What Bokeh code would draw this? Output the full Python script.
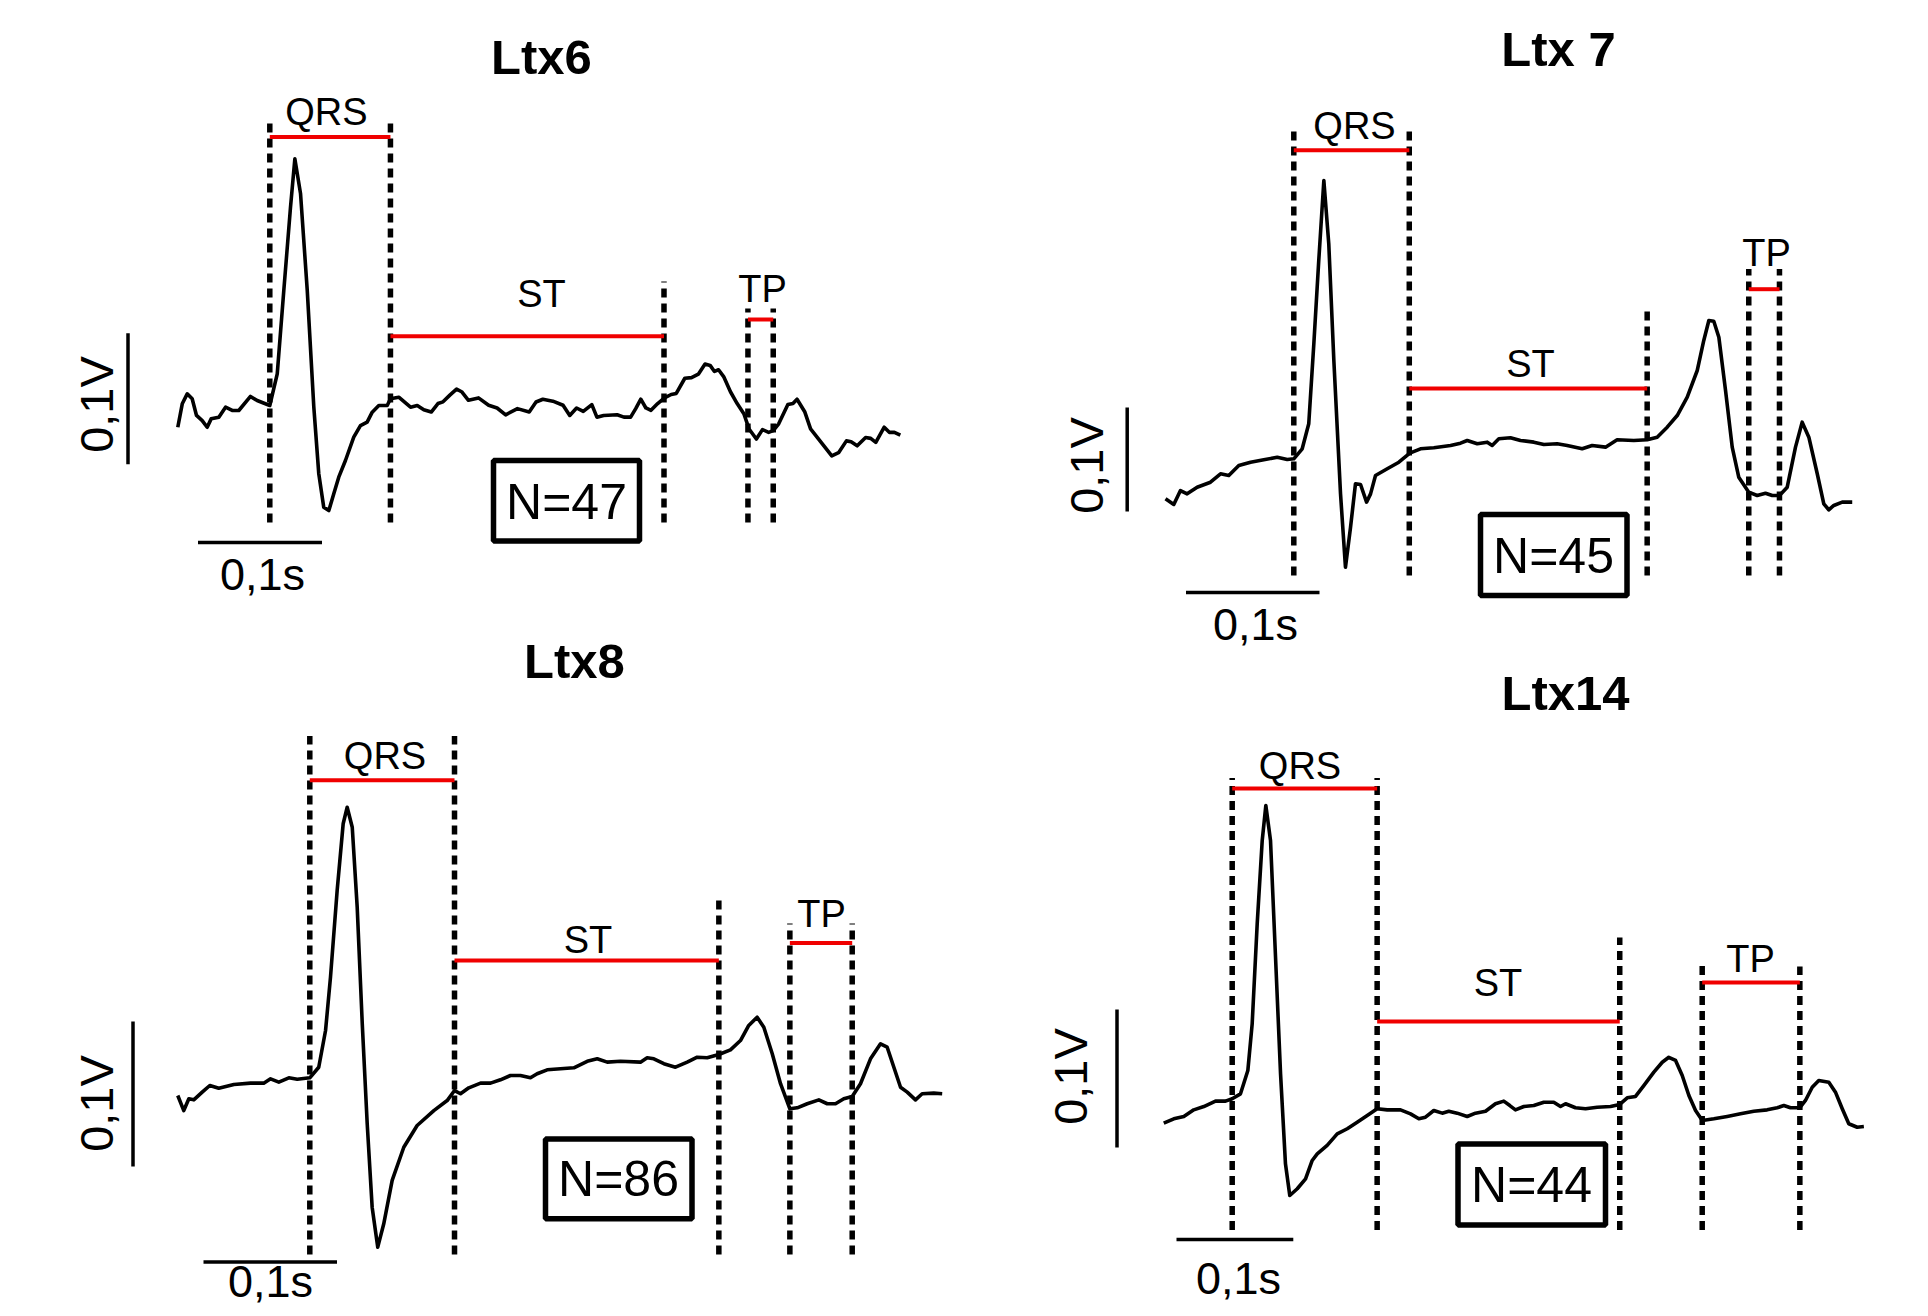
import math
from bokeh.plotting import figure
from bokeh.layouts import row, column
from bokeh.models import Range1d
from bokeh.core.properties import value
from bokeh.embed import file_html
from bokeh.resources import INLINE

# ---------------- data (time in ms from QRS onset, voltage in mV) ----------------
titles = ["Ltx6", "Ltx 7", "Ltx8", "Ltx14"]
n_beats = [47, 45, 86, 44]
interval_names = ["QRS", "ST", "TP"]
time_bar_label = "0,1s"
volt_bar_label = "0,1V"
time_bar_ms = 100
volt_bar_mv = 100

# markers: QRS onset, QRS end / ST start, ST end, TP start, TP end (ms)
marks_6 = [0, 97.3, 317.9, 385.6, 406.0]
marks_7 = [0, 86.5, 264.7, 340.8, 363.8]
marks_8 = [0, 108.4, 306.4, 359.6, 406.3]
marks_14 = [0, 124.1, 331.8, 402.4, 486.0]

t_6 = [-74.2, -70.6, -66.6, -62.6, -59.1, -54.5, -50.5, -47.3, -41.1, -35.7, -30.3, -25.0, -15.6, -10.2, 0,
       6.0, 11.3, 16.7, 20.2, 24.8, 30.2, 35.5, 39.5, 43.5, 47.6, 51.6, 55.6, 61.0, 67.7, 73.1, 78.5, 82.6,
       87.9, 94.7, 97.3, 104.0, 113.5, 118.9, 124.2,
       130.2, 135.6, 139.7, 145.2, 150.6, 154.7, 160.2, 168.3, 176.5, 183.3,
       190.2, 199.7, 209.2, 214.7, 220.2, 228.3, 236.5, 241.9, 247.4, 252.8,
       259.7, 263.8, 269.2, 280.1, 285.6, 291.0, 295.1, 299.2, 303.3, 307.4,
       312.8, 318.3, 323.7, 327.8, 334.7, 340.1, 345.6, 351.0, 355.1, 358.6,
       361.9, 366.0, 371.5, 376.9, 382.3, 386.5, 392.4, 397.3, 402.3, 406.0,
       410.4, 417.8, 421.9, 425.2, 431.5, 436.1, 443.7, 453.2, 458.7, 465.0,
       468.8, 473.7, 480.5, 484.6, 488.7, 495.5, 499.6, 503.7, 508.5]
v_6 = [-16.6, 1.3, 8.9, 5.1, -7.6, -11.5, -16.6, -10.2, -8.9, -1.3, -3.8, -3.8, 6.9, 3.8, 0,
       24.2, 87.8, 151.4, 188.3, 161.6, 87.8, -1.3, -52.1, -77.6, -80.2, -67.4, -54.7, -42.0, -24.2, -15.3, -12.7, -5.1,
       0, 0, 5.1, 6.3, -1.3, 0, -3.3,
       -5.0, 1.5, 2.8, 7.9, 12.5, 10.5, 4.0, 5.8, 0.2, -1.9,
       -7.1, -2.4, -5.0, 2.7, 4.8, 3.3, 0.2, -7.6, -1.9, -4.5,
       0.7, -8.9, -7.6, -7.1, -8.9, -8.9, -2.4, 4.8, -1.9, -3.7,
       1.5, 5.8, 8.4, 9.2, 20.8, 21.3, 23.9, 31.6, 30.6, 26.0,
       27.3, 22.1, 10.5, 1.5, -6.3, -17.9, -25.6, -18.4, -20.5, -19.2,
       -14.0, 0.7, 1.5, 4.8, -5.0, -17.9, -27.0, -38.5, -36.0, -27.0,
       -27.7, -30.8, -24.4, -25.1, -28.2, -16.6, -20.5, -20.5, -22.6]

t_7 = [-96.1, -89.9, -84.9, -79.9, -72.4, -62.4, -54.9, -48.7, -41.2, -32.4,
       -22.5, -12.4, -4.9, 0, 6.3, 11.2, 15.0, 18.7, 22.5, 26.2,
       30.0, 35.0, 38.7, 42.5, 46.2, 50.0, 54.5, 57.5, 61.2, 70.0,
       78.7, 86.9, 94.9, 104.9, 117.4, 124.9, 129.9, 137.4, 144.9, 148.6,
       153.6, 162.3, 169.8, 179.8, 187.3, 197.3, 204.8, 216.0, 223.5, 233.5,
       242.2, 254.7, 264.7, 272.2, 279.7, 287.2, 294.7, 302.2, 307.1, 310.9,
       314.6, 318.4, 323.4, 328.4, 333.3, 340.8, 347.1, 353.3, 358.4, 363.8,
       369.6, 375.8, 380.8, 385.8, 392.1, 397.0, 400.7, 404.5, 410.8, 418.3]
v_7 = [-38.5, -43.9, -30.5, -33.7, -27.3, -22.5, -14.4, -16.1, -6.4, -3.3,
       -1.0, 1.5, -0.7, 0, 9.6, 33.7, 110.6, 190.7, 267.6, 206.7,
       94.5, -33.7, -104.2, -65.8, -24.0, -24.7, -41.7, -33.7, -16.1, -9.6,
       -3.3, 5.4, 9.6, 10.6, 12.8, 15.0, 17.6, 14.4, 16.0, 12.8,
       19.2, 20.2, 17.6, 16.0, 13.8, 14.4, 12.8, 9.6, 12.8, 11.2,
       18.3, 17.6, 18.3, 20.8, 30.4, 41.6, 59.2, 84.9, 113.8, 133.0,
       132.3, 116.9, 65.7, 11.2, -17.7, -32.1, -35.3, -33.1, -35.3, -35.3,
       -27.3, 11.2, 35.2, 20.8, -14.4, -43.3, -49.0, -44.9, -41.7, -41.7]

t_8 = [-98.9, -94.4, -90.6, -86.9, -80.6, -74.9, -68.2, -56.9, -44.4, -34.5,
       -29.4, -23.2, -15.7, -9.4, 0, 6.7, 11.8, 15.5, 20.5, 25.0,
       28.0, 31.8, 35.5, 39.3, 43.0, 46.7, 50.9, 55.4, 61.7, 70.4,
       80.4, 92.9, 102.9, 108.4, 112.9, 119.1, 127.9, 135.4, 142.8, 150.3,
       157.8, 165.3, 170.3, 177.8, 187.8, 197.8, 207.8, 215.3, 222.8, 232.7,
       247.7, 252.7, 257.7, 265.2, 273.9, 282.7, 290.2, 297.7, 306.4, 315.1,
       322.6, 328.8, 335.1, 340.1, 346.4, 352.6, 359.6, 365.1, 372.6, 381.3,
       387.6, 393.8, 400.0, 406.3, 412.5, 420.0, 427.5, 432.5, 437.5, 442.5,
       447.5, 453.7, 458.7, 467.4, 473.7]
v_8 = [-12.2, -22.6, -14.5, -15.2, -9.9, -5.3, -7.2, -4.6, -3.7, -3.7,
       -0.7, -3.0, 0, -1.0, 0, 7.3, 32.6, 69.4, 129.2, 175.2,
       186.6, 172.8, 117.7, 37.2, -31.7, -89.2, -116.8, -100.7, -70.8, -47.9,
       -32.9, -22.6, -15.7, -8.8, -11.0, -6.9, -3.7, -3.7, -1.4, 1.6,
       1.6, 0, 2.8, 5.5, 6.2, 6.9, 11.4, 13.1, 10.8, 11.4,
       10.8, 13.8, 13.1, 9.7, 7.3, 10.8, 14.2, 13.8, 16.1, 19.3,
       25.7, 36.1, 41.8, 34.9, 16.6, -4.1, -21.4, -20.7, -17.9, -15.2,
       -17.9, -17.9, -14.5, -12.9, -4.1, 13.1, 23.4, 21.1, 7.3, -6.5,
       -9.9, -15.2, -11.0, -10.6, -11.0]

t_14 = [-58.6, -50.0, -41.4, -32.9, -24.3, -14.3, -5.7, 0, 7.1, 13.4,
        17.1, 21.4, 25.7, 28.8, 32.8, 37.1, 41.4, 45.6, 49.3, 55.7,
        62.8, 68.5, 72.8, 81.3, 89.9, 98.5, 107.0, 115.6, 124.1, 132.7,
        144.1, 152.7, 159.8, 165.5, 172.6, 179.8, 185.4, 192.6, 201.2, 208.3,
        216.9, 225.4, 232.5, 237.7, 242.5, 249.7, 258.2, 266.8, 275.3, 281.1,
        285.4, 293.9, 302.5, 312.5, 323.9, 331.8, 338.2, 345.3, 352.4, 361.0,
        368.2, 373.8, 379.6, 385.3, 391.0, 396.7, 402.5, 412.4, 423.8, 435.2,
        446.6, 458.0, 466.6, 472.3, 478.0, 486.0, 490.8, 496.6, 502.2, 510.8,
        516.5, 522.3, 527.9, 535.1, 540.8]
v_14 = [-17.7, -14.5, -12.8, -8.0, -5.6, -1.7, -1.7, 0, 3.6, 20.5,
        54.3, 126.8, 187.2, 212.5, 187.2, 102.6, 18.1, -47.1, -70.1, -65.2,
        -58.0, -44.7, -39.9, -33.8, -25.4, -21.7, -17.0, -12.1, -7.2, -8.0,
        -8.0, -10.9, -14.5, -13.3, -8.5, -10.4, -9.0, -10.4, -12.8, -10.4,
        -9.0, -3.6, -1.7, -4.9, -8.0, -5.6, -4.9, -2.5, -2.5, -5.6,
        -3.6, -6.5, -7.2, -6.1, -5.6, -4.1, 0.7, 1.7, 9.6, 19.3,
        26.5, 30.1, 27.8, 16.9, 2.4, -8.5, -15.7, -14.5, -12.8, -10.9,
        -9.0, -8.0, -6.5, -4.9, -6.5, -6.5, -1.2, 8.4, 13.3, 12.0,
        4.8, -7.2, -18.1, -20.6, -20.1]

# ---------------- layout (screenshot pixels; frame = where each figure lands) ----------------
LAYOUT = [
    dict(frame=(0, 0, 956, 610), origin=(269.3, 405.0), scale=(1.24, 1.31),
         title=(541, 56), dash_bottom=522, dash_tops=[119.6, 119.6, 281, 308, 308],
         red_y=[136.4, 335.7, 319], labels=[(325.8, 111), (541, 293), (762, 288)],
         box=(493, 639, 460, 540.5), box_text=(566, 501),
         hbar=(197.5, 542), hbar_text=(262, 574), vbar=(127.5, 463.7), vbar_text=(96, 404)),
    dict(frame=(956, 0, 956, 655), origin=(1293.3, 458.3), scale=(1.335, 1.04),
         title=(1558, 48), dash_bottom=575, dash_tops=[126, 126, 310.5, 268.6, 268.6],
         red_y=[149.8, 388, 288.7], labels=[(1354, 125), (1530, 363), (1766, 252)],
         box=(1480, 1626.5, 514, 595), box_text=(1553, 555),
         hbar=(1185.5, 592), hbar_text=(1255, 624), vbar=(1126.7, 511), vbar_text=(1086, 465)),
    dict(frame=(0, 610, 956, 698), origin=(309.3, 1077.3), scale=(1.335, 1.45),
         title=(574, 660), dash_bottom=1254, dash_tops=[735.6, 735.6, 897, 923, 923],
         red_y=[779.7, 960, 942.5], labels=[(384.5, 755), (587.5, 939), (821, 913)],
         box=(545, 691.5, 1138.5, 1218.2), box_text=(618, 1178),
         hbar=(203, 1261.5), hbar_text=(270, 1281), vbar=(132.5, 1166), vbar_text=(95.5, 1103)),
    dict(frame=(956, 655, 956, 653), origin=(1231.7, 1098.3), scale=(1.168, 1.38),
         title=(1565, 692), dash_bottom=1229.5, dash_tops=[777.6, 777.6, 937, 960, 966],
         red_y=[788, 1021, 982], labels=[(1299.5, 765), (1497.5, 982), (1750, 958)],
         box=(1457.5, 1605, 1143.5, 1224.5), box_text=(1531, 1184),
         hbar=(1176, 1239), hbar_text=(1238, 1278), vbar=(1116.5, 1147), vbar_text=(1070, 1076)),
]

FONT = value("Liberation Sans")


def make_panel(t, v, marks, title, n, L):
    fx, fy, W, H = L["frame"]
    X0, Y0 = L["origin"]
    sx, sy = L["scale"]

    def tx(X):
        return (X - X0) / sx

    def vy(Y):
        return (Y0 - Y) / sy

    p = figure(width=W, height=H, output_backend="svg", toolbar_location=None,
               x_range=Range1d(tx(fx), tx(fx + W)), y_range=Range1d(vy(fy + H), vy(fy)),
               x_axis_location=None, y_axis_location=None, min_border=0,
               outline_line_color=None, background_fill_color="white", border_fill_color="white")
    p.grid.visible = False

    # dashed boundary lines
    bottom = vy(L["dash_bottom"])
    p.segment(x0=marks, x1=marks, y0=[bottom] * len(marks), y1=[vy(y) for y in L["dash_tops"]],
              line_color="black", line_width=5.5, line_dash="9 6")

    # red interval bars
    starts = [marks[0], marks[1], marks[3]]
    ends = [marks[1], marks[2], marks[4]]
    ry = [vy(y) for y in L["red_y"]]
    p.segment(x0=starts, x1=ends, y0=ry, y1=ry, line_color="#f00000", line_width=4)

    # trace
    p.line(t, v, line_color="black", line_width=3.6, line_join="round")

    # interval labels
    p.text(x=[tx(a) for a, b in L["labels"]], y=[vy(b) for a, b in L["labels"]], text=interval_names,
           text_font=FONT, text_font_size="38px", text_align="center", text_baseline="middle",
           text_color="black")

    # title
    p.text(x=[tx(L["title"][0])], y=[vy(L["title"][1])], text=[title], text_font=FONT,
           text_font_size="49px", text_font_style="bold", text_align="center",
           text_baseline="middle", text_color="black")

    # N box
    l, r, tp, bt = L["box"]
    p.quad(left=[tx(l)], right=[tx(r)], top=[vy(tp)], bottom=[vy(bt)], fill_color=None,
           line_color="black", line_width=5.5)
    p.text(x=[tx(L["box_text"][0])], y=[vy(L["box_text"][1])], text=["N=%d" % n], text_font=FONT,
           text_font_size="50px", text_align="center", text_baseline="middle", text_color="black")

    # scale bars
    hx, hy = L["hbar"]
    p.segment(x0=[tx(hx)], x1=[tx(hx) + time_bar_ms], y0=[vy(hy)], y1=[vy(hy)],
              line_color="black", line_width=3.5)
    p.text(x=[tx(L["hbar_text"][0])], y=[vy(L["hbar_text"][1])], text=[time_bar_label],
           text_font=FONT, text_font_size="45px", text_align="center", text_baseline="middle",
           text_color="black")
    vx, vb = L["vbar"]
    p.segment(x0=[tx(vx)], x1=[tx(vx)], y0=[vy(vb)], y1=[vy(vb) + volt_bar_mv],
              line_color="black", line_width=3.5)
    p.text(x=[tx(L["vbar_text"][0])], y=[vy(L["vbar_text"][1])], text=[volt_bar_label],
           text_font=FONT, text_font_size="47px", text_align="center", text_baseline="middle",
           text_color="black", angle=math.pi / 2)
    return p


traces = [(t_6, v_6, marks_6), (t_7, v_7, marks_7), (t_8, v_8, marks_8), (t_14, v_14, marks_14)]
panels = [make_panel(tr[0], tr[1], tr[2], titles[i], n_beats[i], LAYOUT[i]) for i, tr in enumerate(traces)]

root = row(column(panels[0], panels[2], spacing=0), column(panels[1], panels[3], spacing=0), spacing=0)
open("out.html", "w").write(file_html(root, INLINE))
